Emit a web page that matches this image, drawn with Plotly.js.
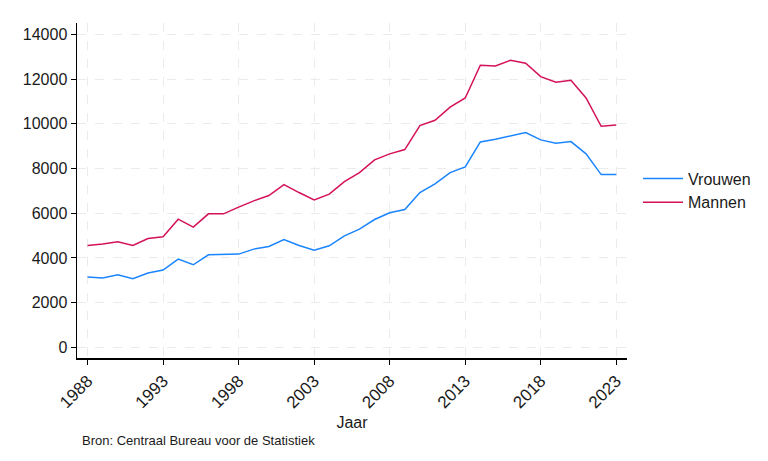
<!DOCTYPE html>
<html>
<head>
<meta charset="utf-8">
<script src="https://cdn.plot.ly/plotly-3.0.1.min.js"></script>
<style>html,body{margin:0;padding:0;background:#fff;}#chart{width:768px;height:461px;}</style>
</head>
<body>
<div id="chart"></div>
<script>
const years = [1988,1989,1990,1991,1992,1993,1994,1995,1996,1997,1998,1999,2000,2001,2002,2003,2004,2005,2006,2007,2008,2009,2010,2011,2012,2013,2014,2015,2016,2017,2018,2019,2020,2021,2022,2023];
const vrouwen = [3145,3100,3248,3069,3323,3457,3949,3694,4141,4171,4171,4394,4512,4825,4556,4349,4543,4990,5289,5718,6017,6165,6924,7313,7818,8072,9189,9309,9457,9606,9278,9129,9203,8653,7728,7728];
const mannen = [4556,4619,4722,4556,4870,4945,5735,5378,5972,5972,6271,6553,6790,7282,6924,6598,6852,7415,7818,8385,8653,8847,9917,10158,10739,11154,12615,12585,12838,12704,12108,11855,11943,11154,9887,9947];
const xTicks = [1988,1993,1998,2003,2008,2013,2018,2023];
const yTicks = [0,2000,4000,6000,8000,10000,12000,14000];

const traces = [
  {x: years, y: vrouwen, name: 'Vrouwen', type: 'scatter', mode: 'lines', line: {color: '#1A85FF', width: 1.5}},
  {x: years, y: mannen, name: 'Mannen', type: 'scatter', mode: 'lines', line: {color: '#D41159', width: 1.5}}
];
const font = {family: 'Liberation Sans, Arial, sans-serif', size: 16, color: '#1a1a1a'};
const layout = {
  width: 768, height: 461,
  margin: {l: 77, r: 141, t: 23, b: 103},
  paper_bgcolor: '#fff', plot_bgcolor: '#fff',
  font: font,
  showlegend: true,
  legend: {x: 1.02, y: 0.5, xanchor: 'left', yanchor: 'middle', font: {size: 16, color: '#1a1a1a'}, tracegroupgap: 0, itemwidth: 40},
  xaxis: {
    range: [1987.3, 2023.71], tickvals: xTicks, ticktext: xTicks.map(String), tickangle: -45,
    tickfont: {size: 17, color: '#1a1a1a'},
    showline: true, linecolor: '#000', linewidth: 1.5, ticks: 'outside', ticklen: 5, tickcolor: '#000',
    showgrid: true, gridcolor: '#ebebeb', griddash: 'dash', gridwidth: 1, zeroline: false,
    title: {text: 'Jaar', font: {size: 16, color: '#1a1a1a'}, standoff: 6}
  },
  yaxis: {
    range: [-474, 14505], tickvals: yTicks, ticktext: yTicks.map(String),
    showline: true, linecolor: '#000', linewidth: 1.5, ticks: 'outside', ticklen: 5, tickcolor: '#000',
    showgrid: true, gridcolor: '#ebebeb', griddash: 'dash', gridwidth: 1, zeroline: false
  },
  annotations: [{
    text: 'Bron: Centraal Bureau voor de Statistiek', xref: 'paper', yref: 'paper',
    x: 0.005, y: -0.245, xanchor: 'left', yanchor: 'middle', showarrow: false,
    font: {size: 13, color: '#1a1a1a'}
  }]
};
Plotly.newPlot('chart', traces, layout, {displayModeBar: false, staticPlot: true});
</script>
</body>
</html>
